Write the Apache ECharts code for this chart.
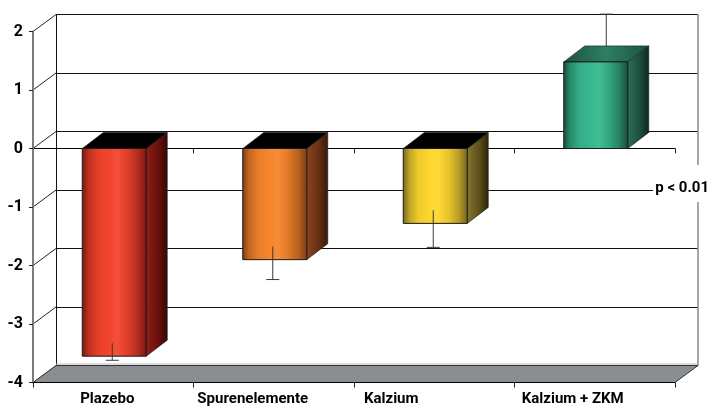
<!DOCTYPE html>
<html>
<head>
<meta charset="utf-8">
<script src="https://cdn.jsdelivr.net/npm/echarts@6/dist/echarts.min.js"></script>
<style>
  html, body { margin: 0; padding: 0; background: #fff; }
  #chart { width: 709px; height: 407px; }
</style>
</head>
<body>
<div id="chart"></div>
<script>
// ---- data ----
const categories = ['Plazebo', 'Spurenelemente', 'Kalzium', 'Kalzium + ZKM'];
const meanChange = [-3.55, -1.90, -1.28, 1.48];
const errorSize = [0.07, 0.34, 0.41, 0.68];
const yTicks = [-4, -3, -2, -1, 0, 1, 2];
const significance = 'p < 0.01';

// ---- palette ----
const faceLight = ['#f2452d', '#f6852b', '#fdd62c', '#37b88e'];
const faceDark  = ['#761611', '#7c3d15', '#74641f', '#174b39'];
const sideLight = ['#921d17', '#8e4520', '#86752d', '#2b7056'];
const sideDark  = ['#360504', '#381805', '#2c2505', '#0b281d'];
const topLight  = ['#000000', '#000000', '#000000', '#2d8063'];
const topDark   = ['#000000', '#000000', '#000000', '#1a523d'];

// ---- layout ----
const FONT = 'Roboto, "Liberation Sans", sans-serif';
const FRONT = { left: 33, top: 31.5, width: 642, height: 351 };
const WALL = [23, -17];     // offset of the back wall from the front plane
const DEPTH = [21, -16];    // depth offset of each bar
const BAR_W = 64;
const labelShift = [6, 21, 43, 22];

const lerp = (a, b, t) => echarts.color.lerp(t, [a, b]);

function frontGradient(i) {
  const L = faceLight[i], D = faceDark[i];
  return new echarts.graphic.LinearGradient(0, 0, 1, 0, [
    { offset: 0.00, color: D },
    { offset: 0.10, color: lerp(D, L, 0.55) },
    { offset: 0.25, color: lerp(D, L, 0.9) },
    { offset: 0.42, color: L },
    { offset: 0.55, color: lerp(L, '#ffffff', 0.06) },
    { offset: 0.70, color: lerp(D, L, 0.85) },
    { offset: 0.86, color: lerp(D, L, 0.5) },
    { offset: 1.00, color: D }
  ]);
}
function sideGradient(i) {
  return new echarts.graphic.LinearGradient(0, 0, 1, 0, [
    { offset: 0, color: sideLight[i] },
    { offset: 0.55, color: lerp(sideLight[i], sideDark[i], 0.45) },
    { offset: 1, color: sideDark[i] }
  ]);
}
function topGradient(i) {
  return new echarts.graphic.LinearGradient(0, 0, 1, 0, [
    { offset: 0, color: topDark[i] },
    { offset: 0.5, color: topLight[i] },
    { offset: 1, color: topDark[i] }
  ]);
}

// walls and floor of the box
function renderFrame(params, api) {
  const cs = params.coordSys;
  const t = api.value(1);
  const y = api.coord([0, t])[1];
  const children = [];
  if (t === yTicks[0]) {
    const yb = y;
    children.push({
      type: 'polygon',
      shape: { points: [[cs.x, yb], [cs.x + WALL[0], yb + WALL[1]],
                        [cs.x + cs.width + WALL[0], yb + WALL[1]], [cs.x + cs.width, yb]] },
      style: { fill: '#8b8e91', stroke: null }
    });
    children.push({
      type: 'line',
      shape: { x1: cs.x + WALL[0], y1: yb + WALL[1] - 1.5, x2: cs.x + cs.width + WALL[0], y2: yb + WALL[1] - 1.5 },
      style: { stroke: '#b8b8b8', lineWidth: 1 }
    });
    children.push({
      type: 'line',
      shape: { x1: cs.x + WALL[0], y1: yb + WALL[1], x2: cs.x + cs.width + WALL[0], y2: yb + WALL[1] },
      style: { stroke: '#333333', lineWidth: 1 }
    });
    children.push({
      type: 'line',
      shape: { x1: cs.x + cs.width, y1: yb, x2: cs.x + cs.width + WALL[0], y2: yb + WALL[1] },
      style: { stroke: '#333333', lineWidth: 1 }
    });
  }
  children.push({
    type: 'line',
    shape: { x1: cs.x, y1: y, x2: cs.x + WALL[0], y2: y + WALL[1] },
    style: { stroke: '#222222', lineWidth: 1 }
  });
  return { type: 'group', children };
}

function renderBar(params, api) {
  const i = api.value(0), v = api.value(1), e = api.value(2);
  const base = api.coord([i, 0]);
  const end = api.coord([i, v]);
  const cx = base[0] + 1;
  const x0 = cx - BAR_W / 2, x1 = cx + BAR_W / 2;
  const yTop = Math.min(base[1], end[1]);
  const yBot = Math.max(base[1], end[1]);
  const dx = DEPTH[0], dy = DEPTH[1];
  const edge = '#1a1a1a';
  const err = '#3a3a3a';
  const children = [];

  if (v >= 0) {
    // error bar sits at mid depth, its foot hidden by the top face
    const cap = api.coord([i, v + e])[1] + dy / 2;
    const ex = cx + dx / 2;
    children.push({ type: 'line', shape: { x1: ex, y1: end[1] + dy / 2, x2: ex, y2: cap }, style: { stroke: err, lineWidth: 1 } });
    children.push({ type: 'line', shape: { x1: ex - 6.5, y1: cap, x2: ex + 6.5, y2: cap }, style: { stroke: err, lineWidth: 1 } });
  }

  children.push({
    type: 'polygon',
    shape: { points: [[x1, yTop], [x1 + dx, yTop + dy], [x1 + dx, yBot + dy], [x1, yBot]] },
    style: { fill: sideGradient(i), stroke: edge, lineWidth: 0.6 }
  });
  children.push({
    type: 'polygon',
    shape: { points: [[x0, yTop], [x0 + dx, yTop + dy], [x1 + dx, yTop + dy], [x1, yTop]] },
    style: { fill: topGradient(i), stroke: edge, lineWidth: 0.6 }
  });
  children.push({
    type: 'rect',
    shape: { x: x0, y: yTop, width: BAR_W, height: yBot - yTop },
    style: { fill: frontGradient(i), stroke: edge, lineWidth: 1 }
  });

  if (v < 0) {
    const cap = api.coord([i, v - e])[1];
    const ex = cx - 2;
    children.push({ type: 'line', shape: { x1: ex, y1: yBot - 13, x2: ex, y2: cap }, style: { stroke: err, lineWidth: 1 } });
    children.push({ type: 'line', shape: { x1: ex - 6.5, y1: cap, x2: ex + 6.5, y2: cap }, style: { stroke: err, lineWidth: 1 } });
  }
  return { type: 'group', children };
}

const labelRich = {};
labelShift.forEach((s, i) => {
  labelRich['c' + i] = { padding: [0, 2 * s, 0, 0], fontFamily: FONT, fontWeight: 'bold', fontSize: 15, color: '#000' };
});

const chart = echarts.init(document.getElementById('chart'));
chart.setOption({
  animation: false,
  backgroundColor: '#ffffff',
  grid: [
    { left: FRONT.left, top: FRONT.top, width: FRONT.width, height: FRONT.height },
    { left: FRONT.left + WALL[0], top: FRONT.top + WALL[1], width: FRONT.width, height: FRONT.height }
  ],
  xAxis: [
    {
      gridIndex: 0, type: 'category', data: categories, position: 'bottom', z: 1,
      axisLine: { onZero: true, lineStyle: { color: '#000', width: 1 } },
      axisTick: { show: true, length: 5, lineStyle: { color: '#222' } },
      axisLabel: { show: false }, splitLine: { show: false }
    },
    {
      gridIndex: 0, type: 'category', data: categories, position: 'bottom', z: 5,
      axisLine: { onZero: false, lineStyle: { color: '#000', width: 1 } },
      axisTick: { show: true, length: 5, lineStyle: { color: '#222' } },
      axisLabel: {
        interval: 0, hideOverlap: false,
        margin: 9, fontFamily: FONT, fontWeight: 'bold', fontSize: 15, color: '#000',
        formatter: (val, idx) => '{c' + idx + '|' + val + '}',
        rich: labelRich
      },
      splitLine: { show: false }
    },
    { gridIndex: 1, type: 'category', data: categories, show: false }
  ],
  yAxis: [
    {
      gridIndex: 0, type: 'value', min: yTicks[0], max: yTicks[yTicks.length - 1], interval: 1, z: 5,
      axisLine: { show: true, lineStyle: { color: '#7c7c7c', width: 2 } },
      axisTick: { show: true, length: 4, lineStyle: { color: '#222' } },
      axisLabel: { margin: 10, fontFamily: FONT, fontWeight: 'bold', fontSize: 16, color: '#000' },
      splitLine: { show: false }
    },
    {
      gridIndex: 1, type: 'value', min: yTicks[0], max: yTicks[yTicks.length - 1], interval: 1,
      axisLine: { show: true, lineStyle: { color: '#111', width: 1 } },
      axisTick: { show: false }, axisLabel: { show: false },
      splitLine: { show: true, lineStyle: { color: '#111', width: 1 } }
    },
    {
      gridIndex: 1, type: 'value', position: 'right', min: yTicks[0], max: yTicks[yTicks.length - 1], interval: 1,
      axisLine: { show: true, lineStyle: { color: '#8a8a8a', width: 1.5 } },
      axisTick: { show: false }, axisLabel: { show: false }, splitLine: { show: false }
    }
  ],
  series: [
    {
      type: 'custom', xAxisIndex: 0, yAxisIndex: 0, z: 1, silent: true,
      renderItem: renderFrame,
      data: yTicks.map(t => [0, t])
    },
    {
      type: 'custom', xAxisIndex: 0, yAxisIndex: 0, z: 3,
      renderItem: renderBar,
      data: categories.map((c, i) => [i, meanChange[i], errorSize[i]])
    }
  ],
  graphic: [
    { type: 'rect', x: 653, y: 165, shape: { width: 56, height: 37 }, style: { fill: '#ffffff' }, z: 20 },
    { type: 'text', x: 709, y: 188, z: 21,
      style: { text: significance, font: 'bold 15px ' + FONT, fill: '#000', align: 'right', verticalAlign: 'middle' } }
  ]
});
</script>
</body>
</html>
